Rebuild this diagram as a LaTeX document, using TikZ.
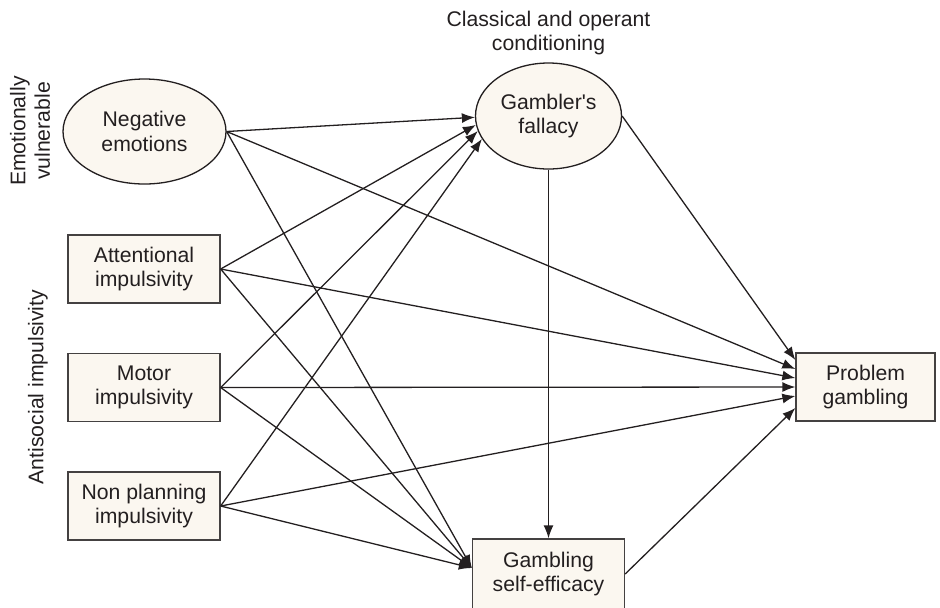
\documentclass[tikz,border=0pt]{standalone}
\usepackage{fontspec}
\setmainfont{Liberation Sans}
\usetikzlibrary{shapes.geometric,arrows.meta}

\definecolor{cream}{HTML}{FBF7F0}
\definecolor{ink}{HTML}{231F20}

\tikzset{
	>={Latex[length=6.5pt,width=5pt]},
	every node/.style={font=\fontsize{10.6pt}{12.2pt}\selectfont, align=center, text=ink},
	var/.style={draw=ink!85, fill=cream, line width=0.65pt, minimum width=76pt, minimum height=34pt, inner sep=0pt},
	lat/.style={ellipse, draw=ink, fill=cream, line width=0.65pt, inner sep=0pt},
}

\begin{document}
\begin{tikzpicture}[x=0.5pt, y=-0.5pt, line width=0.65pt, draw=ink]
	\useasboundingbox (0,0) rectangle (940,607);
	% group labels
	\node (l-cond) at (548.5,33) {Classical and operant\\conditioning};
	\node[rotate=90] (l-emo) at (30,131) {Emotionally\\vulnerable};
	\node[rotate=90] (l-anti) at (38,387) {Antisocial impulsivity};
	% latent variables
	\node[lat, minimum width=81.5pt, minimum height=52.5pt] (neg) at (144.5,131.5) {Negative\\emotions};
	\node[lat, minimum width=73pt, minimum height=53pt] (gf) at (548.5,116) {Gambler\textquotesingle s\\fallacy};
	% impulsivity boxes
	\foreach[count=\i] \nm/\lbl/\yy in {att/Attentional/269, mot/Motor/387.5, npl/Non planning/506} {
		\node[var] (\nm) at (144,\yy) {\lbl\\impulsivity};
	}
	\node[var, minimum height=35pt] (se) at (548.5,574) {Gambling\\self-efficacy};
	\node[var, minimum width=69.5pt] (pg) at (865.5,387) {Problem\\gambling};

	\draw[->] (neg.east) -- (gf.181);
	\draw[->] (att.east) -- (gf.187);
	\draw[->] (mot.east) -- (gf.192);
	\draw[->] (npl.east) -- (gf.199);

	\draw[->] (neg.east) -- ([yshift=3pt]se.west);
	\draw[->] (att.east) -- ([yshift=3pt]se.west);
	\draw[->] (mot.east) -- ([yshift=3pt]se.west);
	\draw[->] (npl.east) -- ([yshift=3pt]se.west);

	\draw[->] (gf.east) -- ([yshift=13.5pt]pg.west);
	\draw[->] (neg.east) -- ([yshift=9pt]pg.west);
	\draw[->] (att.east) -- ([yshift=4.5pt]pg.west);
	\draw[->] (mot.east) -- (pg.west);
	\draw[->] (npl.east) -- ([yshift=-4.5pt]pg.west);
	\draw[->] (se.east) -- ([yshift=-10.5pt]pg.west);

	\draw[->] (gf.south) -- (se.north);
\end{tikzpicture}
\end{document}
